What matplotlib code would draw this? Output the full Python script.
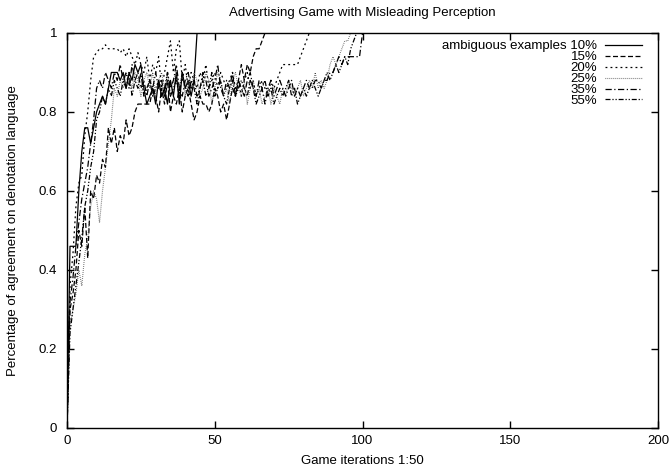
import numpy as np
import matplotlib
matplotlib.use("Agg")
import matplotlib.pyplot as plt
from matplotlib.ticker import FormatStrFormatter, MultipleLocator

plt.rcParams['font.family'] = ['Liberation Sans', 'DejaVu Sans']

# agreement per game iteration, until each run converges to 1
agree_10 = [0, 0.46, 0.46, 0.46, 0.60, 0.70, 0.76, 0.76, 0.72, 0.76,
            0.80, 0.82, 0.84, 0.82, 0.86, 0.90, 0.90, 0.90, 0.88, 0.90,
            0.86, 0.90, 0.88, 0.92, 0.90, 0.92, 0.86, 0.82, 0.84, 0.86,
            0.82, 0.88, 0.84, 0.86, 0.82, 0.88, 0.84, 0.90, 0.82, 0.90,
            0.86, 0.88, 0.84, 0.88, 1.0]
agree_15 = [0, 0.30, 0.34, 0.40, 0.50, 0.46, 0.56, 0.43, 0.60, 0.58,
            0.64, 0.62, 0.68, 0.66, 0.76, 0.72, 0.76, 0.70, 0.74, 0.72,
            0.78, 0.74, 0.76, 0.80, 0.82, 0.82, 0.82, 0.82, 0.82, 0.86,
            0.84, 0.80, 0.86, 0.82, 0.88, 0.80, 0.84, 0.82, 0.86, 0.80,
            0.84, 0.86, 0.82, 0.78, 0.80, 0.84, 0.82, 0.82, 0.80, 0.82,
            0.86, 0.84, 0.80, 0.82, 0.78, 0.82, 0.86, 0.84, 0.88, 0.92,
            0.88, 0.92, 0.90, 0.94, 0.96, 0.96, 0.98, 1.0]
agree_20 = [0, 0.36, 0.44, 0.56, 0.62, 0.64, 0.74, 0.80, 0.88, 0.94,
            0.95, 0.96, 0.96, 0.97, 0.96, 0.96, 0.96, 0.96, 0.95, 0.96,
            0.94, 0.96, 0.94, 0.92, 0.95, 0.92, 0.90, 0.94, 0.88, 0.92,
            0.90, 0.94, 0.86, 0.90, 0.94, 0.98, 0.90, 0.96, 0.98, 0.88,
            0.92, 0.86, 0.90, 0.88, 0.86, 0.90, 0.88, 0.92, 0.86, 0.88,
            0.90, 0.86, 0.90, 0.88, 0.86, 0.88, 0.90, 0.86, 0.88, 0.84,
            0.88, 0.90, 0.86, 0.88, 0.84, 0.86, 0.88, 0.86, 0.84, 0.88,
            0.86, 0.88, 0.90, 0.92, 0.92, 0.92, 0.92, 0.92, 0.92, 0.94,
            0.96, 0.98, 1.0]
agree_25 = [0, 0.26, 0.30, 0.34, 0.40, 0.36, 0.44, 0.48, 0.56, 0.60,
            0.58, 0.52, 0.60, 0.66, 0.72, 0.78, 0.86, 0.84, 0.88, 0.86,
            0.90, 0.88, 0.86, 0.90, 0.88, 0.84, 0.88, 0.90, 0.86, 0.90,
            0.84, 0.88, 0.90, 0.86, 0.88, 0.84, 0.88, 0.90, 0.86, 0.90,
            0.84, 0.88, 0.86, 0.90, 0.88, 0.84, 0.86, 0.90, 0.88, 0.82,
            0.86, 0.90, 0.88, 0.84, 0.86, 0.82, 0.88, 0.90, 0.86, 0.84,
            0.88, 0.82, 0.86, 0.88, 0.84, 0.86, 0.82, 0.84, 0.86, 0.82,
            0.86, 0.84, 0.82, 0.86, 0.84, 0.88, 0.86, 0.84, 0.86, 0.88,
            0.84, 0.86, 0.88, 0.86, 0.90, 0.86, 0.88, 0.86, 0.88, 0.92,
            0.94, 0.92, 0.94, 0.96, 0.98, 0.98, 1.0]
agree_35 = [0, 0.32, 0.38, 0.46, 0.52, 0.58, 0.62, 0.66, 0.72, 0.78,
            0.86, 0.88, 0.86, 0.90, 0.88, 0.86, 0.90, 0.88, 0.92, 0.88,
            0.90, 0.86, 0.92, 0.88, 0.90, 0.86, 0.88, 0.84, 0.88, 0.86,
            0.90, 0.86, 0.88, 0.84, 0.90, 0.86, 0.88, 0.92, 0.86, 0.84,
            0.88, 0.90, 0.86, 0.88, 0.84, 0.86, 0.90, 0.88, 0.84, 0.86,
            0.88, 0.92, 0.86, 0.84, 0.88, 0.86, 0.90, 0.84, 0.88, 0.86,
            0.84, 0.88, 0.90, 0.86, 0.84, 0.88, 0.86, 0.82, 0.86, 0.88,
            0.84, 0.86, 0.88, 0.86, 0.84, 0.86, 0.88, 0.84, 0.86, 0.84,
            0.86, 0.88, 0.86, 0.86, 0.88, 0.88, 0.86, 0.88, 0.88, 0.90,
            0.90, 0.92, 0.94, 0.92, 0.94, 0.94, 0.94, 0.94, 0.94, 0.94,
            1.0]
agree_55 = [0, 0.24, 0.30, 0.36, 0.42, 0.48, 0.56, 0.60, 0.66, 0.70,
            0.78, 0.80, 0.84, 0.82, 0.86, 0.84, 0.88, 0.86, 0.84, 0.88,
            0.86, 0.90, 0.84, 0.88, 0.86, 0.90, 0.84, 0.86, 0.88, 0.84,
            0.86, 0.88, 0.84, 0.86, 0.90, 0.84, 0.86, 0.88, 0.84, 0.90,
            0.86, 0.84, 0.88, 0.86, 0.82, 0.86, 0.88, 0.84, 0.86, 0.90,
            0.84, 0.86, 0.88, 0.84, 0.82, 0.86, 0.88, 0.84, 0.86, 0.88,
            0.86, 0.84, 0.88, 0.86, 0.82, 0.84, 0.86, 0.88, 0.84, 0.86,
            0.82, 0.84, 0.86, 0.84, 0.86, 0.88, 0.84, 0.86, 0.82, 0.84,
            0.86, 0.84, 0.86, 0.88, 0.86, 0.84, 0.86, 0.88, 0.90, 0.88,
            0.90, 0.92, 0.90, 0.92, 0.94, 0.92, 0.96, 0.98, 1.0]

labels = ["ambiguous examples 10%", "15%", "20%", "25%", "35%", "55%"]
x_max = 200   # runs stay at 1 until the last iteration

series = [agree_10, agree_15, agree_20, agree_25, agree_35, agree_55]
styles = [("-", "black", 0.9),
          ((0, (4, 2)), "black", 0.9),
          ((0, (1.5, 2.5)), "black", 0.9),
          ((0, (0.6, 1.2)), "#444444", 0.8),
          ((0, (5, 2, 1, 2)), "black", 0.9),
          ((0, (4, 1.5, 1, 1.5, 1, 1.5)), "black", 0.9)]

fs = 9.5
fig = plt.figure(figsize=(6.71, 4.71), dpi=100)
ax = fig.add_axes([0.0999, 0.0913, 0.8807, 0.8387])

for vals, lab, (ls, col, lw) in zip(series, labels, styles):
    x = np.append(np.arange(len(vals)), x_max)
    y = np.append(vals, 1.0)
    ax.plot(x, y, linestyle=ls, color=col, linewidth=lw, label=lab)

ax.set_xlim(0, 200)
ax.set_ylim(0, 1)
ax.xaxis.set_major_locator(MultipleLocator(50))
ax.yaxis.set_major_locator(MultipleLocator(0.2))
ax.yaxis.set_major_formatter(FormatStrFormatter('%g'))
ax.tick_params(direction='in', top=True, right=True, length=5, width=1,
               labelsize=fs)
ax.tick_params(axis='y', pad=7)
ax.tick_params(axis='x', pad=5)
for sp in ax.spines.values():
    sp.set_linewidth(1)

ax.set_title("Advertising Game with Misleading Perception", fontsize=fs, pad=12)
ax.set_xlabel("Game iterations 1:50", fontsize=fs, labelpad=6)
ax.set_ylabel("Percentage of agreement on denotation language", fontsize=fs, labelpad=14)

ax.legend(loc='upper right', bbox_to_anchor=(0.982, 0.995), frameon=False,
          markerfirst=False, fontsize=fs, handlelength=2.8, labelspacing=-0.1,
          borderaxespad=0, handletextpad=0.6)

fig.savefig("out.png", dpi=100)
